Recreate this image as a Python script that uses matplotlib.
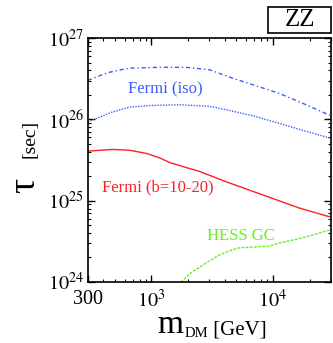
import numpy as np
import matplotlib
matplotlib.use("Agg")
import matplotlib.pyplot as plt
from matplotlib.patches import Rectangle

plt.rcParams['font.family'] = ['Liberation Serif', 'DejaVu Serif']
plt.rcParams['mathtext.fontset'] = 'stix'

# ---- data: mass [GeV], log10(tau [sec]) ----
iso_hi_m = [300, 380, 454, 560, 662, 1167, 1942, 3000, 4375, 7015, 11250, 18030, 29400]
iso_hi_t = [26.48, 26.54, 26.58, 26.61, 26.63, 26.64, 26.64, 26.61, 26.52, 26.42, 26.32, 26.19, 26.05]

iso_lo_m = [300, 380, 454, 560, 662, 966, 1702, 3000, 4375, 7015, 11250, 18030, 29400]
iso_lo_t = [25.97, 26.03, 26.08, 26.12, 26.15, 26.17, 26.18, 26.16, 26.11, 26.04, 25.95, 25.86, 25.77]

fermi_b_m = [300, 481, 662, 914, 1150, 1410, 1900, 2483, 3980, 6380, 10230, 16400, 29400]
fermi_b_t = [25.61, 25.63, 25.62, 25.58, 25.53, 25.47, 25.41, 25.36, 25.24, 25.13, 25.02, 24.91, 24.80]

hess_m = [1650, 2056, 2483, 3000, 3622, 4300, 5285, 7000, 9310, 11250, 17340, 29400]
hess_t = [23.96, 24.10, 24.18, 24.26, 24.33, 24.38, 24.42, 24.43, 24.44, 24.48, 24.54, 24.64]

blue = '#3a5cff'
red = '#ff2020'
green = '#66ee22'

fig = plt.figure(figsize=(3.33, 3.43), dpi=100)
ax = fig.add_axes([0.264, 0.178, 0.730, 0.711])

ax.plot(iso_hi_m, 10 ** np.array(iso_hi_t), color=blue, lw=1.0, ls=(0, (3, 2, 1, 2)))
ax.plot(iso_lo_m, 10 ** np.array(iso_lo_t), color=blue, lw=1.0, ls=(0, (1, 1)))
ax.plot(fermi_b_m, 10 ** np.array(fermi_b_t), color=red, lw=1.0)
ax.plot(hess_m, 10 ** np.array(hess_t), color=green, lw=1.0, ls=(0, (2, 1)))

ax.set_xscale('log')
ax.set_yscale('log')
ax.set_xlim(300, 3e4)
ax.set_ylim(1e24, 1e27)
ax.set_xticks([300, 1e3, 1e4])
ax.set_xticklabels(['300', r'$10^{3}$', r'$10^{4}$'])
ax.set_yticks([1e24, 1e25, 1e26, 1e27])
ax.set_yticklabels([r'$10^{24}$', r'$10^{25}$', r'$10^{26}$', r'$10^{27}$'])
ax.tick_params(which='both', direction='in', top=True, right=True, labelsize=14.5)
ax.tick_params(which='major', length=5, width=1)
ax.tick_params(which='minor', length=2.5, width=0.8)
ax.tick_params(axis='x', pad=6)
ax.tick_params(axis='y', pad=3)
for s in ax.spines.values():
    s.set_linewidth(1.2)

ax.text(0.165, 0.775, 'Fermi (iso)', color=blue, fontsize=12, transform=ax.transAxes)
ax.text(0.058, 0.373, 'Fermi (b=10-20)', color=red, fontsize=12, transform=ax.transAxes)
ax.text(0.49, 0.172, 'HESS GC', color=green, fontsize=12, transform=ax.transAxes)

# x label: m_DM [GeV]
tm = fig.text(0.472, 0.03, 'm', fontsize=24, ha='left', va='baseline')
tdm = ax.annotate('DM', xy=(1, 0), xycoords=tm, fontsize=10.5, va='bottom',
                  xytext=(1, 0), textcoords='offset points')
ax.annotate(' [GeV]', xy=(1, 0), xycoords=tdm, fontsize=15, va='bottom')

# y label: tau [sec]
fig.text(0.075, 0.46, 'τ', fontsize=27, rotation=90, ha='center', va='center')
fig.text(0.09, 0.595, '[sec]', fontsize=14, rotation=90, ha='center', va='center')

# ZZ box
fig.patches.append(Rectangle((268 / 333, 1 - 33 / 343), 63 / 333, 26 / 343,
                             transform=fig.transFigure, fill=False, lw=1.2, ec='black'))
fig.text(299.5 / 333, 1 - 20 / 343, 'ZZ', fontsize=18, ha='center', va='center')

fig.savefig('out.png', dpi=100)
